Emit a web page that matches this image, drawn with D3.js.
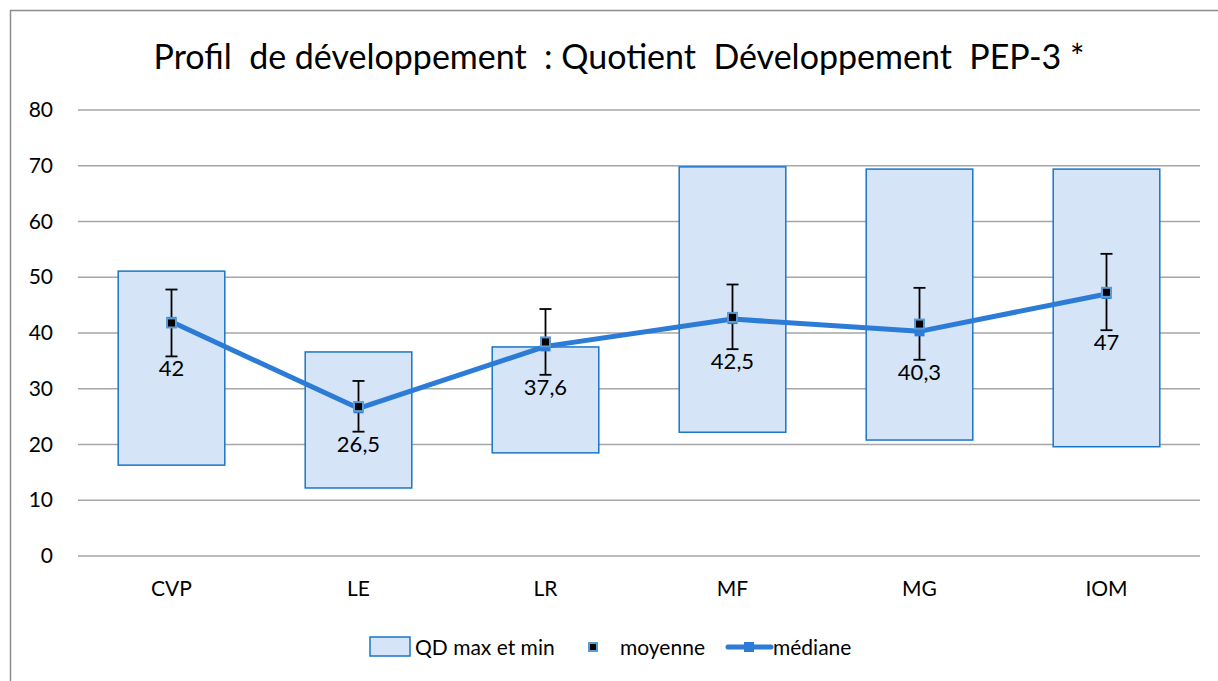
<!DOCTYPE html>
<html>
<head>
<meta charset="utf-8">
<script src="https://cdn.jsdelivr.net/npm/d3@7"></script>
<style>
  body { margin: 0; background: #fff; }
  text { font-family: Lato, "Noto Sans", sans-serif; fill: #000; }
</style>
</head>
<body>
<div id="chart"></div>
<script>
// Profil de développement - QD PEP-3
let categories = ["CVP", "LE", "LR", "MF", "MG", "IOM"];
let qdMax = [51.1, 36.6, 37.5, 69.8, 69.4, 69.4];
let qdMin = [16.3, 12.2, 18.5, 22.2, 20.8, 19.6];
let moyenne = [41.8, 26.8, 38.4, 42.8, 41.6, 47.3];
let errHigh = [47.8, 31.4, 44.3, 48.7, 48.1, 54.2];
let errLow = [35.8, 22.3, 32.5, 37.1, 35.2, 40.5];
let mediane = [42, 26.5, 37.6, 42.5, 40.3, 47];
let medianeLabels = ["42", "26,5", "37,6", "42,5", "40,3", "47"];
let yTicks = [0, 10, 20, 30, 40, 50, 60, 70, 80];

let svgWidth = 1218;
let svgHeight = 681;
let margin = { top: 110, right: 18, bottom: 125, left: 78 };
let width = svgWidth - margin.left - margin.right;
let height = svgHeight - margin.top - margin.bottom;

let svg = d3.select("#chart")
  .append("svg")
  .attr("width", svgWidth)
  .attr("height", svgHeight);

// outer frame (only top and left edges are visible)
svg.append("path")
  .attr("d", "M10.5,681 L10.5,10.5 L1218,10.5")
  .attr("fill", "none")
  .attr("stroke", "#8c8c8c")
  .attr("stroke-width", 1.5);

svg.append("text")
  .attr("x", 619)
  .attr("y", 69)
  .attr("text-anchor", "middle")
  .attr("font-size", 34)
  .style("white-space", "pre")
  .text("Profil  de développement  : Quotient  Développement  PEP-3 *");

let chart = svg.append("g")
  .attr("transform", "translate(" + margin.left + "," + margin.top + ")");

let x = d3.scaleBand().domain(categories).range([0, width]);
let y = d3.scaleLinear().domain([0, 80]).range([height, 0]);

// gridlines
chart.append("g").selectAll("line")
  .data(yTicks)
  .enter().append("line")
  .attr("x1", 0).attr("x2", width)
  .attr("y1", d => y(d)).attr("y2", d => y(d))
  .attr("stroke", "#a6a6a6")
  .attr("stroke-width", 1.5);

let leftAxis = d3.axisLeft(y).tickValues(yTicks).tickSize(0).tickPadding(25);
chart.append("g")
  .call(leftAxis)
  .call(g => g.select(".domain").remove())
  .selectAll("text")
  .attr("font-size", 21)
  .style("font-family", "Lato, 'Noto Sans', sans-serif");

let bottomAxis = d3.axisBottom(x).tickSize(0).tickPadding(25);
chart.append("g")
  .attr("transform", "translate(0," + height + ")")
  .call(bottomAxis)
  .call(g => g.select(".domain").remove())
  .selectAll("text")
  .attr("font-size", 21)
  .style("font-family", "Lato, 'Noto Sans', sans-serif");

let boxW = x.bandwidth() * 0.57;
let cx = d => x(d) + x.bandwidth() / 2;

// QD max et min boxes
chart.append("g").selectAll("rect")
  .data(categories)
  .enter().append("rect")
  .attr("x", d => cx(d) - boxW / 2)
  .attr("y", (d, i) => y(qdMax[i]))
  .attr("width", boxW)
  .attr("height", (d, i) => y(qdMin[i]) - y(qdMax[i]))
  .attr("fill", "#d5e4f6")
  .attr("stroke", "#1a76c8")
  .attr("stroke-width", 1.5);

// error bars on moyenne
let err = chart.append("g").selectAll("g")
  .data(categories)
  .enter().append("g");
err.append("line")
  .attr("x1", d => cx(d)).attr("x2", d => cx(d))
  .attr("y1", (d, i) => y(errHigh[i])).attr("y2", (d, i) => y(errLow[i]))
  .attr("stroke", "#000").attr("stroke-width", 1.8);
err.append("line")
  .attr("x1", d => cx(d) - 6).attr("x2", d => cx(d) + 6)
  .attr("y1", (d, i) => y(errHigh[i])).attr("y2", (d, i) => y(errHigh[i]))
  .attr("stroke", "#000").attr("stroke-width", 1.8);
err.append("line")
  .attr("x1", d => cx(d) - 6).attr("x2", d => cx(d) + 6)
  .attr("y1", (d, i) => y(errLow[i])).attr("y2", (d, i) => y(errLow[i]))
  .attr("stroke", "#000").attr("stroke-width", 1.8);

// médiane line
let line = d3.line()
  .x((d, i) => cx(categories[i]))
  .y(d => y(d));
chart.append("path")
  .datum(mediane)
  .attr("d", line)
  .attr("fill", "none")
  .attr("stroke", "#2b7bd7")
  .attr("stroke-width", 5)
  .attr("stroke-linejoin", "round");

chart.append("g").selectAll("rect")
  .data(mediane)
  .enter().append("rect")
  .attr("x", (d, i) => cx(categories[i]) - 5)
  .attr("y", d => y(d) - 5)
  .attr("width", 10).attr("height", 10)
  .attr("fill", "#2b7bd7");

// moyenne markers
chart.append("g").selectAll("rect")
  .data(moyenne)
  .enter().append("rect")
  .attr("x", (d, i) => cx(categories[i]) - 4.5)
  .attr("y", d => y(d) - 4.5)
  .attr("width", 9).attr("height", 9)
  .attr("fill", "#000")
  .attr("stroke", "#5b9bd5")
  .attr("stroke-width", 2);

// data labels
chart.append("g").selectAll("text")
  .data(medianeLabels)
  .enter().append("text")
  .attr("x", (d, i) => cx(categories[i]))
  .attr("y", (d, i) => y(errLow[i]) + 20)
  .attr("text-anchor", "middle")
  .attr("font-size", 22)
  .text(d => d);

// legend
let legend = svg.append("g");
legend.append("rect")
  .attr("x", 370).attr("y", 637).attr("width", 40).attr("height", 19)
  .attr("fill", "#d5e4f6").attr("stroke", "#1a76c8").attr("stroke-width", 1.5);
legend.append("text").attr("x", 415).attr("y", 655).attr("font-size", 21).text("QD max et min");

legend.append("rect")
  .attr("x", 589).attr("y", 643).attr("width", 8).attr("height", 8)
  .attr("fill", "#000").attr("stroke", "#5b9bd5").attr("stroke-width", 2);
legend.append("text").attr("x", 620).attr("y", 655).attr("font-size", 21).text("moyenne");

legend.append("line")
  .attr("x1", 728).attr("x2", 771).attr("y1", 647).attr("y2", 647)
  .attr("stroke", "#2b7bd7").attr("stroke-width", 5).attr("stroke-linecap", "round");
legend.append("rect")
  .attr("x", 744).attr("y", 642).attr("width", 10).attr("height", 10)
  .attr("fill", "#2b7bd7");
legend.append("text").attr("x", 773).attr("y", 655).attr("font-size", 21).text("médiane");
</script>
</body>
</html>
